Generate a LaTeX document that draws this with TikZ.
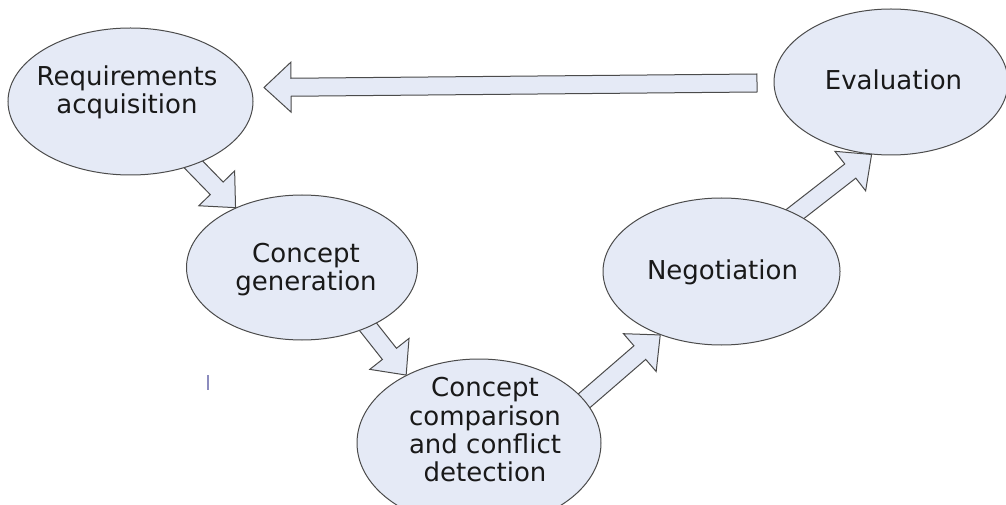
\documentclass[tikz,border=0pt]{standalone}
\usepackage{fontspec}
\setmainfont{DejaVu Sans}
\usetikzlibrary{shapes.geometric,calc}
\pgfdeclarelayer{background}
\pgfsetlayers{background,main}

\definecolor{bubblefill}{RGB}{229,234,246}
\definecolor{edgegray}{RGB}{75,75,75}
\definecolor{inktext}{RGB}{25,25,25}
\definecolor{cursorblue}{RGB}{140,140,190}

\tikzset{
  bubble/.style={ellipse, draw=edgegray, fill=bubblefill, line width=1pt, inner sep=0pt},
  caption/.style={font=\fontsize{26}{28.3}\selectfont, text=inktext, align=center, inner sep=0pt},
  fatarrow/.style={draw=edgegray, fill=bubblefill, line width=1pt, line join=miter},
}

% Block arrow: #1 = how far the tail is pushed back, #2 = tail point, #3 = tip point
\newcommand\blockarrow[3][6pt]{%
  \path ($(#2)!-#1!(#3)$) coordinate (ba-tail)
        ($(#3)!27pt!(#2)$) coordinate (ba-base);
  \draw[fatarrow]
    ($(ba-tail)!9pt!90:(#3)$) -- ($(ba-base)!9pt!90:(#3)$) --
    ($(ba-base)!25pt!90:(#3)$) -- (#3) --
    ($(ba-base)!25pt!-90:(#3)$) -- ($(ba-base)!9pt!-90:(#3)$) --
    ($(ba-tail)!9pt!-90:(#3)$) -- cycle;
}

\begin{document}
\begin{tikzpicture}[x=1pt,y=1pt]
  \useasboundingbox (0,0) rectangle (1006,504);
  \clip (0,0) rectangle (1006,504);

  % process stages
  \node[bubble, minimum width=245pt, minimum height=147pt] (req)  at (130.5,402.5) {};
  \node[bubble, minimum width=231pt, minimum height=145pt] (gen)  at (302,236.5) {};
  \node[bubble, minimum width=244pt, minimum height=168pt] (cmp)  at (479,61) {};
  \node[bubble, minimum width=237pt, minimum height=147pt] (neg)  at (721.5,232.5) {};
  \node[bubble, minimum width=234pt, minimum height=146pt] (eval) at (891,422) {};

  \node[caption] (reqT) at (127,411.8) {Requirements\\acquisition};
  \node[caption] (genT) at (306,234.6) {Concept\\generation};
  \node[caption] (cmpT) at (485,74.3) {Concept\\comparison\\and conflict\\detection};
  \node[caption, anchor=base] (negT) at (722.5,225) {Negotiation};
  \node[caption, anchor=base] (evalT) at (893.5,414) {Evaluation};

  % feedback arrow from evaluation back to requirements
  \coordinate (backTail) at (757,421);
  \coordinate (backTip) at (264,416.5);

  \begin{pgfonlayer}{background}
    \blockarrow{req.-45.5}{gen.138}
    \blockarrow{gen.-42.4}{cmp.137}
    \blockarrow{cmp.22.7}{neg.-134.5}
    \blockarrow{neg.38.8}{eval.-105.6}
    \blockarrow[0pt]{backTail}{backTip}
  \end{pgfonlayer}

  % small text cursor mark
  \draw[cursorblue, line width=2pt] (208,129) -- (208,114);
\end{tikzpicture}
\end{document}
